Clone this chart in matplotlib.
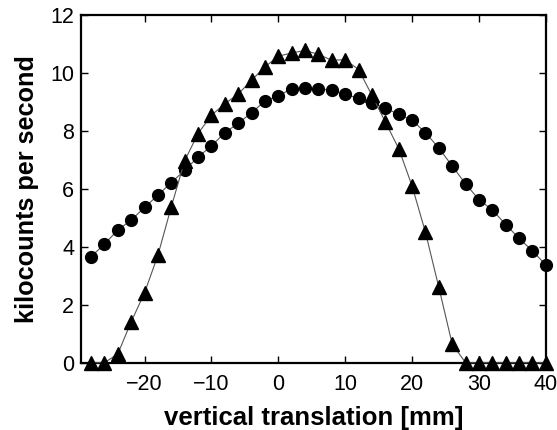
import matplotlib
matplotlib.use("Agg")
import matplotlib.pyplot as plt
import numpy as np

x_pos = list(range(-28, 41, 2))
circles = [3.66, 4.09, 4.58, 4.92, 5.36, 5.78, 6.22, 6.64, 7.10, 7.48, 7.94, 8.26,
           8.63, 9.03, 9.21, 9.46, 9.48, 9.46, 9.40, 9.27, 9.12, 8.97, 8.79, 8.57,
           8.37, 7.94, 7.41, 6.79, 6.17, 5.63, 5.27, 4.77, 4.29, 3.86, 3.37]
triangles = [0.0, 0.0, 0.30, 1.41, 2.41, 3.71, 5.38, 6.97, 7.91, 8.54, 8.94, 9.27,
             9.75, 10.21, 10.58, 10.69, 10.78, 10.64, 10.44, 10.46, 10.12, 9.23, 8.31,
             7.39, 6.10, 4.50, 2.60, 0.64, 0.0, 0.0, 0.0, 0.0, 0.0, 0.0, 0.0]
x_ticks = [-20, -10, 0, 10, 20, 30, 40]
y_ticks = [0, 2, 4, 6, 8, 10, 12]

plt.rcParams['font.family'] = ['Liberation Sans', 'DejaVu Sans']
fig = plt.figure(figsize=(5.57, 4.30), dpi=100)
ax = fig.add_axes([0.1454, 0.1565, 0.8346, 0.8085])

ax.plot(x_pos, circles, color='#555555', lw=0.8, marker='o', ms=8.5,
        mfc='black', mec='black', zorder=3)
ax.plot(x_pos, triangles, color='#555555', lw=0.8, marker='^', ms=9.5,
        mfc='black', mec='black', zorder=3)

ax.set_xlim(-29.5, 40)
ax.set_ylim(0, 12)
ax.set_xticks(x_ticks)
ax.set_yticks(y_ticks)
ax.set_xticklabels(['\u221220', '\u221210', '0', '10', '20', '30', '40'])
ax.tick_params(direction='in', top=True, right=True, labelsize=15.5, length=5,
               width=1)
ax.tick_params(axis='x', pad=8)
ax.tick_params(axis='y', pad=5)
for s in ax.spines.values():
    s.set_linewidth(1.6)
ax.set_xlabel('vertical translation [mm]', fontsize=18.5, fontweight='bold', labelpad=8)
ax.set_ylabel('kilocounts per second', fontsize=18.2, fontweight='bold', labelpad=8)
for m in ax.get_lines():
    m.set_clip_on(False)

fig.savefig('out.png', dpi=100)
